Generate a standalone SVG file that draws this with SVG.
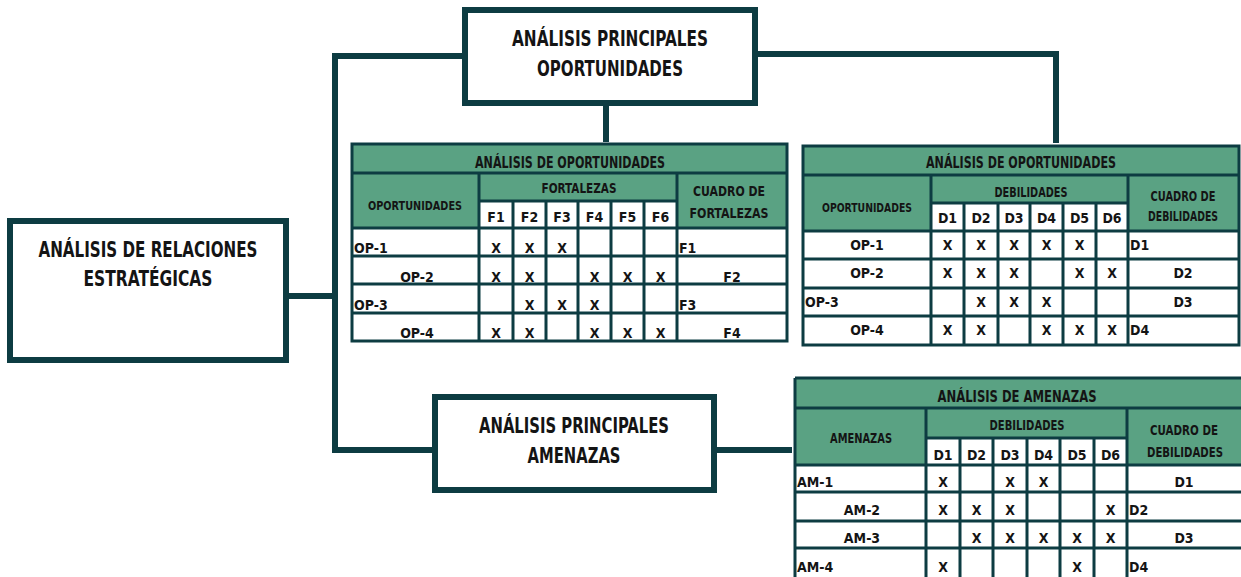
<svg xmlns="http://www.w3.org/2000/svg" width="1241" height="577" viewBox="0 0 1241 577">
<style>
.box{fill:#fff;stroke:#0d3c42;stroke-width:6}
.con{fill:none;stroke:#0d3c42;stroke-width:6;stroke-linejoin:miter}
.grn{fill:#5aa283}
.wht{fill:#fff}
.ln{stroke:#0d3c42;stroke-width:3;fill:none}
text{font-family:"Liberation Sans Narrow","DejaVu Sans Condensed","Liberation Sans",sans-serif;font-weight:bold;fill:#141414}
.big{font-size:21px}
.hd{font-size:15px}
.cl{font-size:14px}
.hc{font-size:12.5px}
.c{text-anchor:middle}
</style>

<g id="connectors">
<path class="con" d="M289 296 H335"/>
<path class="con" d="M462 56 H335 V450 H432"/>
<path class="con" d="M606 106 V142"/>
<path class="con" d="M758 54 H1056 V143"/>
<path class="con" d="M717 450 H792"/>
</g>

<g id="node-relaciones">
<rect class="box" x="10" y="221" width="276" height="139"/>
<text class="big c" x="148" y="257" textLength="219" lengthAdjust="spacingAndGlyphs">ANÁLISIS DE RELACIONES</text>
<text class="big c" x="148" y="286" textLength="129" lengthAdjust="spacingAndGlyphs">ESTRATÉGICAS</text>
</g>

<g id="node-oportunidades">
<rect class="box" x="465" y="10" width="290" height="93"/>
<text class="big c" x="610" y="46" textLength="196" lengthAdjust="spacingAndGlyphs">ANÁLISIS PRINCIPALES</text>
<text class="big c" x="610" y="76" textLength="146" lengthAdjust="spacingAndGlyphs">OPORTUNIDADES</text>
</g>

<g id="node-amenazas">
<rect class="box" x="435" y="397" width="279" height="93"/>
<text class="big c" x="574" y="433" textLength="190" lengthAdjust="spacingAndGlyphs">ANÁLISIS PRINCIPALES</text>
<text class="big c" x="574" y="463" textLength="93" lengthAdjust="spacingAndGlyphs">AMENAZAS</text>
</g>

<g id="table-fortalezas">
<rect class="grn" x="352" y="144" width="435" height="84"/>
<rect class="wht" x="479" y="201" width="198" height="27"/>
<rect class="wht" x="352" y="228" width="435" height="113"/>
<path class="ln" d="M352 173 H787 M479 201 H677 M352 228 H787 M352 256 H787 M352 284 H787 M352 313 H787"/>
<path class="ln" d="M479 173 V341 M677 173 V341 M513 201 V341 M546 201 V341 M578 201 V341 M611 201 V341 M644 201 V341"/>
<rect class="ln" x="352" y="144" width="435" height="197"/>
<text class="hd c" x="570" y="168" textLength="190" lengthAdjust="spacingAndGlyphs">ANÁLISIS DE OPORTUNIDADES</text>
<text class="hc c" x="415" y="210" textLength="94" lengthAdjust="spacingAndGlyphs">OPORTUNIDADES</text>
<text class="cl c" x="579" y="193" textLength="75" lengthAdjust="spacingAndGlyphs">FORTALEZAS</text>
<text class="cl c" x="729" y="196" textLength="72" lengthAdjust="spacingAndGlyphs">CUADRO DE</text>
<text class="cl c" x="729" y="218" textLength="79" lengthAdjust="spacingAndGlyphs">FORTALEZAS</text>
<text class="cl c" x="496" y="222">F1</text>
<text class="cl c" x="529.5" y="222">F2</text>
<text class="cl c" x="562" y="222">F3</text>
<text class="cl c" x="594.5" y="222">F4</text>
<text class="cl c" x="627.5" y="222">F5</text>
<text class="cl c" x="660.5" y="222">F6</text>
<text class="cl" x="354" y="253">OP-1</text>
<text class="cl c" x="417" y="282">OP-2</text>
<text class="cl" x="354" y="310">OP-3</text>
<text class="cl c" x="417" y="338">OP-4</text>
<text class="cl" x="679" y="253">F1</text>
<text class="cl c" x="732" y="282">F2</text>
<text class="cl" x="679" y="310">F3</text>
<text class="cl c" x="732" y="338">F4</text>
<text class="cl c" x="496" y="253">X</text>
<text class="cl c" x="529.5" y="253">X</text>
<text class="cl c" x="562" y="253">X</text>
<text class="cl c" x="496" y="282">X</text>
<text class="cl c" x="529.5" y="282">X</text>
<text class="cl c" x="594.5" y="282">X</text>
<text class="cl c" x="627.5" y="282">X</text>
<text class="cl c" x="660.5" y="282">X</text>
<text class="cl c" x="529.5" y="310">X</text>
<text class="cl c" x="562" y="310">X</text>
<text class="cl c" x="594.5" y="310">X</text>
<text class="cl c" x="496" y="338">X</text>
<text class="cl c" x="529.5" y="338">X</text>
<text class="cl c" x="594.5" y="338">X</text>
<text class="cl c" x="627.5" y="338">X</text>
<text class="cl c" x="660.5" y="338">X</text>
</g>

<g id="table-debilidades-op">
<rect class="grn" x="803" y="146" width="436" height="85"/>
<rect class="wht" x="931" y="203" width="197" height="28"/>
<rect class="wht" x="803" y="231" width="436" height="114"/>
<path class="ln" d="M803 175 H1239 M931 203 H1128 M803 231 H1239 M803 259 H1239 M803 288 H1239 M803 316 H1239"/>
<path class="ln" d="M931 175 V345 M1128 175 V345 M964 203 V345 M998 203 V345 M1030 203 V345 M1063 203 V345 M1096 203 V345"/>
<rect class="ln" x="803" y="146" width="436" height="199"/>
<text class="hd c" x="1021" y="168" textLength="190" lengthAdjust="spacingAndGlyphs">ANÁLISIS DE OPORTUNIDADES</text>
<text class="hc c" x="867" y="212" textLength="90" lengthAdjust="spacingAndGlyphs">OPORTUNIDADES</text>
<text class="cl c" x="1031" y="197" textLength="73" lengthAdjust="spacingAndGlyphs">DEBILIDADES</text>
<text class="cl c" x="1183" y="201" textLength="65" lengthAdjust="spacingAndGlyphs">CUADRO DE</text>
<text class="cl c" x="1183" y="221" textLength="70" lengthAdjust="spacingAndGlyphs">DEBILIDADES</text>
<text class="cl c" x="947.5" y="223">D1</text>
<text class="cl c" x="981" y="223">D2</text>
<text class="cl c" x="1014" y="223">D3</text>
<text class="cl c" x="1046.5" y="223">D4</text>
<text class="cl c" x="1079.5" y="223">D5</text>
<text class="cl c" x="1112" y="223">D6</text>
<text class="cl c" x="867" y="250">OP-1</text>
<text class="cl c" x="867" y="278">OP-2</text>
<text class="cl" x="805" y="307">OP-3</text>
<text class="cl c" x="867" y="335">OP-4</text>
<text class="cl" x="1130" y="250">D1</text>
<text class="cl c" x="1183" y="278">D2</text>
<text class="cl c" x="1183" y="307">D3</text>
<text class="cl" x="1130" y="335">D4</text>
<text class="cl c" x="947.5" y="250">X</text>
<text class="cl c" x="981" y="250">X</text>
<text class="cl c" x="1014" y="250">X</text>
<text class="cl c" x="1046.5" y="250">X</text>
<text class="cl c" x="1079.5" y="250">X</text>
<text class="cl c" x="947.5" y="278">X</text>
<text class="cl c" x="981" y="278">X</text>
<text class="cl c" x="1014" y="278">X</text>
<text class="cl c" x="1079.5" y="278">X</text>
<text class="cl c" x="1112" y="278">X</text>
<text class="cl c" x="981" y="307">X</text>
<text class="cl c" x="1014" y="307">X</text>
<text class="cl c" x="1046.5" y="307">X</text>
<text class="cl c" x="947.5" y="335">X</text>
<text class="cl c" x="981" y="335">X</text>
<text class="cl c" x="1046.5" y="335">X</text>
<text class="cl c" x="1079.5" y="335">X</text>
<text class="cl c" x="1112" y="335">X</text>
</g>

<g id="table-amenazas">
<rect class="grn" x="795" y="378" width="450" height="87"/>
<rect class="wht" x="926" y="438" width="201" height="27"/>
<rect class="wht" x="795" y="465" width="450" height="115"/>
<path class="ln" d="M795 378 H1245 M795 408 H1245 M926 438 H1127 M795 465 H1245 M795 492 H1245 M795 521 H1245 M795 548 H1245"/>
<path class="ln" d="M795 378 V580 M926 408 V580 M1127 408 V580 M960 438 V580 M993 438 V580 M1027 438 V580 M1060 438 V580 M1094 438 V580"/>
<text class="hd c" x="1017" y="402" textLength="159" lengthAdjust="spacingAndGlyphs">ANÁLISIS DE AMENAZAS</text>
<text class="cl c" x="861" y="443" textLength="62" lengthAdjust="spacingAndGlyphs">AMENAZAS</text>
<text class="cl c" x="1027" y="430" textLength="75" lengthAdjust="spacingAndGlyphs">DEBILIDADES</text>
<text class="cl c" x="1184" y="435" textLength="68" lengthAdjust="spacingAndGlyphs">CUADRO DE</text>
<text class="cl c" x="1185" y="457" textLength="76" lengthAdjust="spacingAndGlyphs">DEBILIDADES</text>
<text class="cl c" x="943" y="460">D1</text>
<text class="cl c" x="976.5" y="460">D2</text>
<text class="cl c" x="1010" y="460">D3</text>
<text class="cl c" x="1043.5" y="460">D4</text>
<text class="cl c" x="1077" y="460">D5</text>
<text class="cl c" x="1110.5" y="460">D6</text>
<text class="cl" x="797" y="487">AM-1</text>
<text class="cl c" x="862" y="515">AM-2</text>
<text class="cl c" x="862" y="543">AM-3</text>
<text class="cl" x="797" y="572">AM-4</text>
<text class="cl c" x="1184" y="487">D1</text>
<text class="cl" x="1129" y="515">D2</text>
<text class="cl c" x="1184" y="543">D3</text>
<text class="cl" x="1129" y="572">D4</text>
<text class="cl c" x="943" y="487">X</text>
<text class="cl c" x="1010" y="487">X</text>
<text class="cl c" x="1043.5" y="487">X</text>
<text class="cl c" x="943" y="515">X</text>
<text class="cl c" x="976.5" y="515">X</text>
<text class="cl c" x="1010" y="515">X</text>
<text class="cl c" x="1110.5" y="515">X</text>
<text class="cl c" x="976.5" y="543">X</text>
<text class="cl c" x="1010" y="543">X</text>
<text class="cl c" x="1043.5" y="543">X</text>
<text class="cl c" x="1077" y="543">X</text>
<text class="cl c" x="1110.5" y="543">X</text>
<text class="cl c" x="943" y="572">X</text>
<text class="cl c" x="1077" y="572">X</text>
</g>
</svg>
